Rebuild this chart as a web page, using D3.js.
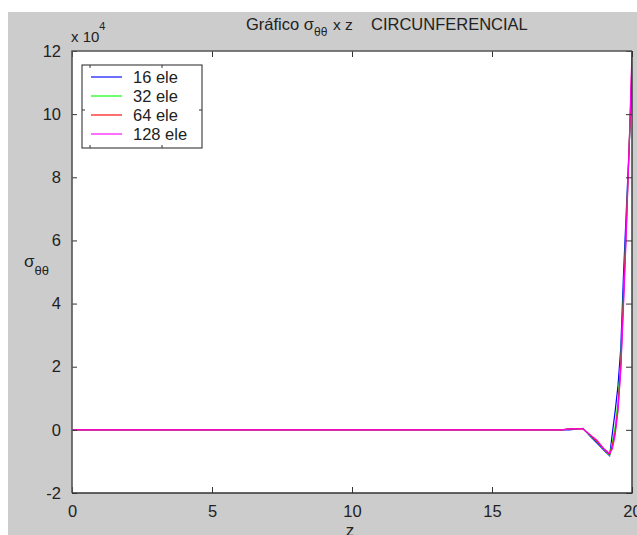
<!DOCTYPE html>
<html>
<head>
<meta charset="utf-8">
<script src="https://cdn.jsdelivr.net/npm/d3@7/dist/d3.min.js"></script>
<style>
  html, body { margin: 0; padding: 0; background: #ffffff; }
  svg { display: block; }
  text { font-family: "Liberation Sans", Arial, Helvetica, sans-serif; }
</style>
</head>
<body>
<svg id="chart" width="637" height="535"></svg>
<script>
// Circumferential stress along z for four mesh refinements (values in units of 1e4)
const zValues   = [0, 17.5, 17.75, 18.0, 18.25, 18.5, 18.75, 19.0, 19.2, 19.3, 19.4, 19.5, 19.6, 19.7, 19.8, 19.9, 20.0];
const sigma16   = [0, 0, 0.00, 0.02, 0.05, -0.20, -0.42, -0.65, -0.82, -0.10, 0.60, 1.40, 2.60, 5.00, 7.00, 9.00, 11.0];
const sigma32   = [0, 0, 0.03, 0.03, 0.04, -0.17, -0.38, -0.62, -0.80, -0.40, 0.10, 0.90, 2.20, 4.40, 6.60, 9.00, 11.3];
const sigma64   = [0, 0, 0.03, 0.03, 0.03, -0.16, -0.36, -0.61, -0.78, -0.50, -0.05, 0.70, 2.00, 4.20, 6.50, 9.00, 11.7];
const sigma128  = [0, 0, 0.03, 0.03, 0.03, -0.15, -0.33, -0.60, -0.75, -0.60, -0.15, 0.60, 1.90, 4.00, 6.30, 9.00, 12.0];

const seriesNames  = ["16 ele", "32 ele", "64 ele", "128 ele"];
const seriesValues = [sigma16, sigma32, sigma64, sigma128];
const seriesColors = ["#0000ff", "#00ff00", "#ff0000", "#ff00ff"];

const xTicks = [0, 5, 10, 15, 20];
const yTicks = [-2, 0, 2, 4, 6, 8, 10, 12];

const svg = d3.select("#chart");
const W = 637, H = 535;
const plot = { left: 72, right: 632, top: 51, bottom: 493 };

// figure background
svg.append("rect").attr("x", 8).attr("y", 12).attr("width", W - 8).attr("height", H - 12)
  .attr("fill", "#cccccc");

const x = d3.scaleLinear().domain([0, 20]).range([plot.left, plot.right]);
const y = d3.scaleLinear().domain([-2, 12]).range([plot.bottom, plot.top]);

// axes area
svg.append("rect")
  .attr("x", plot.left).attr("y", plot.top)
  .attr("width", plot.right - plot.left).attr("height", plot.bottom - plot.top)
  .attr("fill", "#ffffff");

svg.append("clipPath").attr("id", "plotClip")
  .append("rect")
  .attr("x", plot.left).attr("y", plot.top)
  .attr("width", plot.right - plot.left).attr("height", plot.bottom - plot.top);

// data lines
const line = d3.line().x((d, i) => x(zValues[i])).y(d => y(d));
const lines = svg.append("g").attr("clip-path", "url(#plotClip)");
seriesValues.forEach((vals, k) => {
  lines.append("path")
    .datum(vals)
    .attr("d", line)
    .attr("fill", "none")
    .attr("stroke", seriesColors[k])
    .attr("stroke-width", 1.2);
});

// axes with inward ticks on all four sides
const tickColor = "#333333";
const fontSize = "16.5px";
const plain = d => String(d);
function styleAxis(g, showLabels) {
  g.select(".domain").remove();
  g.selectAll(".tick line").attr("stroke", tickColor).attr("stroke-width", 1);
  g.selectAll(".tick text")
    .attr("fill", "#222222")
    .style("font-size", fontSize)
    .style("display", showLabels ? null : "none");
}

svg.append("g").attr("transform", `translate(0,${plot.bottom})`)
  .call(d3.axisBottom(x).tickValues(xTicks).tickFormat(plain).tickSizeInner(-6).tickSizeOuter(0).tickPadding(12))
  .call(g => styleAxis(g, true));
svg.append("g").attr("transform", `translate(0,${plot.top})`)
  .call(d3.axisTop(x).tickValues(xTicks).tickSizeInner(-6).tickSizeOuter(0))
  .call(g => styleAxis(g, false));
svg.append("g").attr("transform", `translate(${plot.left},0)`)
  .call(d3.axisLeft(y).tickValues(yTicks).tickFormat(plain).tickSizeInner(-5).tickSizeOuter(0).tickPadding(11))
  .call(g => styleAxis(g, true));
svg.append("g").attr("transform", `translate(${plot.right},0)`)
  .call(d3.axisRight(y).tickValues(yTicks).tickSizeInner(-6).tickSizeOuter(0))
  .call(g => styleAxis(g, false));

// axes box
svg.append("path")
  .attr("d", `M${plot.left},${plot.bottom}V${plot.top}H${plot.right}`)
  .attr("fill", "none").attr("stroke", "#555555").attr("stroke-width", 1.6);
svg.append("path")
  .attr("d", `M${plot.left},${plot.bottom}H${plot.right}V${plot.top}`)
  .attr("fill", "none").attr("stroke", "#333333").attr("stroke-width", 1.4);

// exponent label
const expo = svg.append("text").attr("x", 71).attr("y", 42).attr("fill", "#222").style("font-size", "15px");
expo.append("tspan").text("x 10");
expo.append("tspan").attr("dy", -12).style("font-size", "11px").text("4");

// title
const title = svg.append("text").attr("x", 246).attr("y", 30).attr("fill", "#222").style("font-size", "16.5px");
title.append("tspan").text("Gráfico σ");
title.append("tspan").attr("dy", 6).style("font-size", "12px").text("θθ");
title.append("tspan").attr("dy", -6).attr("x", 333).style("font-size", "15.5px").text("x z");
title.append("tspan").attr("x", 371).text("CIRCUNFERENCIAL");

// y label
const ylab = svg.append("text").attr("x", 24).attr("y", 267).attr("fill", "#222").style("font-size", "17px");
ylab.append("tspan").text("σ");
ylab.append("tspan").attr("dy", 8).style("font-size", "13px").text("θθ");

// x label
svg.append("text").attr("x", 350).attr("y", 536).attr("text-anchor", "middle")
  .attr("fill", "#222").style("font-size", "17px").text("z");

// legend
const leg = { x: 82, y: 65, w: 120, h: 83 };
const lg = svg.append("g");
lg.append("rect").attr("x", leg.x).attr("y", leg.y).attr("width", leg.w).attr("height", leg.h)
  .attr("fill", "#ffffff").attr("stroke", "#222222").attr("stroke-width", 1);
// small ticks on the legend frame
[90, 162].forEach(tx => {
  lg.append("line").attr("x1", tx).attr("x2", tx).attr("y1", leg.y).attr("y2", leg.y + 3).attr("stroke", "#333");
  lg.append("line").attr("x1", tx).attr("x2", tx).attr("y1", leg.y + leg.h).attr("y2", leg.y + leg.h - 3).attr("stroke", "#333");
});
[110].forEach(ty => {
  lg.append("line").attr("x1", leg.x + leg.w).attr("x2", leg.x + leg.w - 3).attr("y1", ty).attr("y2", ty).attr("stroke", "#333");
  lg.append("line").attr("x1", leg.x).attr("x2", leg.x + 3).attr("y1", ty).attr("y2", ty).attr("stroke", "#333");
});
seriesNames.forEach((name, k) => {
  const baseY = 83 + k * 19;
  lg.append("line")
    .attr("x1", 91).attr("x2", 122)
    .attr("y1", baseY - 6).attr("y2", baseY - 6)
    .attr("stroke", seriesColors[k]).attr("stroke-width", 1.5).attr("opacity", 0.75);
  lg.append("text").attr("x", 133).attr("y", baseY).attr("fill", "#222")
    .style("font-size", "16.5px").text(name);
});
</script>
</body>
</html>
